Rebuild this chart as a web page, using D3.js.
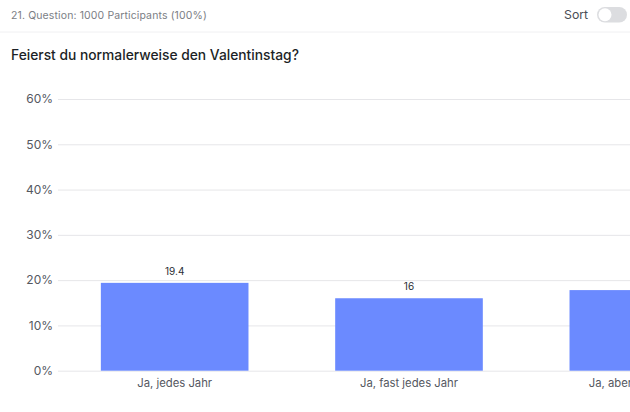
<!DOCTYPE html>
<html>
<head>
<meta charset="utf-8">
<script src="https://cdn.jsdelivr.net/npm/d3@7"></script>
<style>
    html, body { margin: 0; padding: 0; background: #fff; overflow: hidden; }
    svg { display: block; font-family: Inter, "Noto Sans", sans-serif; }
</style>
</head>
<body>
<svg id="chart" width="630" height="412"></svg>
<script>
// Chart data
const categories = ["Ja, jedes Jahr", "Ja, fast jedes Jahr", "Ja, aber nicht immer"];
const values = [19.4, 16, 17.8];
const yTicks = [0, 10, 20, 30, 40, 50, 60];

const headerText = "21. Question: 1000 Participants (100%)";
const titleText = "Feierst du normalerweise den Valentinstag?";
const sortText = "Sort";

const svg = d3.select("#chart");

// Plot area runs past the right edge, the third bar is cut off by the window
const x = d3.scaleBand()
    .domain(categories)
    .range([57.5, 760.5])
    .paddingInner(0.37)
    .paddingOuter(0.185);

const y = d3.scaleLinear()
    .domain([0, 60])
    .range([370.7, 99]);

// Header row
svg.append("text")
    .attr("x", 11)
    .attr("y", 19)
    .attr("font-size", 10.5)
    .attr("letter-spacing", 0.12)
    .attr("fill", "#7b7e85")
    .text(headerText);

svg.append("line")
    .attr("x1", 0)
    .attr("x2", 630)
    .attr("y1", 32)
    .attr("y2", 32)
    .attr("stroke", "#f0f0f2");

svg.append("text")
    .attr("x", 564)
    .attr("y", 19)
    .attr("font-size", 12.3)
    .attr("fill", "#4b4e55")
    .text(sortText);

// Sort toggle
svg.append("rect")
    .attr("x", 597)
    .attr("y", 7)
    .attr("width", 30)
    .attr("height", 15.5)
    .attr("rx", 7.75)
    .attr("fill", "#dcdde0");

svg.append("circle")
    .attr("cx", 605)
    .attr("cy", 14.75)
    .attr("r", 6.5)
    .attr("fill", "#fff");

// Question title
svg.append("text")
    .attr("x", 11)
    .attr("y", 60)
    .attr("font-size", 13.8)
    .attr("font-weight", 500)
    .attr("fill", "#1c1f26")
    .text(titleText);

// Grid lines and y axis
const yAxis = svg.append("g")
    .attr("transform", "translate(58,0)")
    .call(d3.axisLeft(y).tickValues(yTicks).tickFormat(d => d + "%").tickSize(0).tickPadding(5));

yAxis.select(".domain").remove();
yAxis.selectAll("text")
    .attr("font-family", "Inter")
    .attr("font-size", 12)
    .attr("fill", "#55585f");
yAxis.selectAll(".tick").append("line")
    .attr("x1", 0)
    .attr("x2", 572)
    .attr("stroke", "#e6e6e9");

// Bars
svg.selectAll(".bar")
    .data(values)
    .enter()
    .append("rect")
    .attr("class", "bar")
    .attr("x", (d, i) => x(categories[i]))
    .attr("y", d => y(d))
    .attr("width", x.bandwidth())
    .attr("height", d => y(0) - y(d))
    .attr("fill", "#6b8aff");

// Value labels
svg.selectAll(".value")
    .data(values)
    .enter()
    .append("text")
    .attr("class", "value")
    .attr("x", (d, i) => x(categories[i]) + x.bandwidth() / 2)
    .attr("y", d => y(d) - 8)
    .attr("text-anchor", "middle")
    .attr("font-size", 10)
    .attr("fill", "#2b2e35")
    .text(d => d);

// Category labels
const xAxis = svg.append("g")
    .attr("transform", "translate(0,370.7)")
    .call(d3.axisBottom(x).tickSize(0).tickPadding(8));

xAxis.select(".domain").remove();
xAxis.selectAll("text")
    .attr("font-family", "Inter")
    .attr("font-size", 11.3)
    .attr("fill", "#55585f");
</script>
</body>
</html>
